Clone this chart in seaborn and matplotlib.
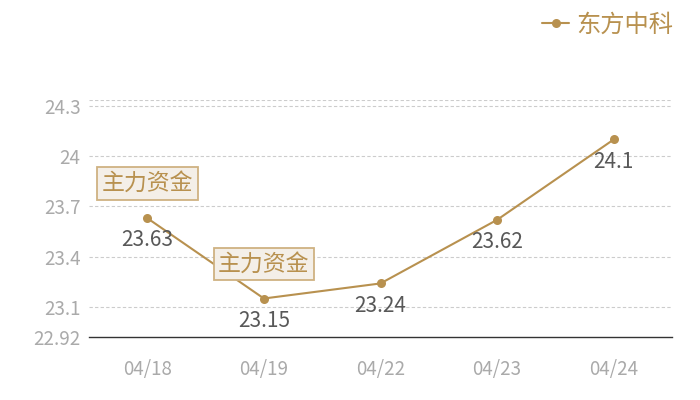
import numpy as np
import pandas as pd
import matplotlib
matplotlib.use("Agg")
import matplotlib.pyplot as plt
import seaborn as sns

dates = ["04/18", "04/19", "04/22", "04/23", "04/24"]
prices = [23.63, 23.15, 23.24, 23.62, 24.1]
ytick_vals = [22.92, 23.1, 23.4, 23.7, 24.0, 24.3]
ytick_labels = ["22.92", "23.1", "23.4", "23.7", "24", "24.3"]
flag_dates = ["04/18", "04/19"]
flag_text = "主力资金"
series_name = "东方中科"

gold = "#b8914f"
sns.set_theme(style="white")
plt.rcParams["font.family"] = ["Noto Sans CJK SC", "DejaVu Sans"]
plt.rcParams["axes.unicode_minus"] = False

df = pd.DataFrame({"date": dates, "price": prices})

fig = plt.figure(figsize=(7, 4), dpi=100)
ax = fig.add_axes([89 / 700, 1 - 337 / 400, 583 / 700, 237 / 400])

sns.lineplot(data=df, x="date", y="price", sort=False, color=gold, linewidth=1.5,
             marker="o", markersize=6.5, markeredgewidth=0, label=series_name, ax=ax)

ax.set_xlim(-0.5, len(dates) - 0.5)
ax.set_ylim(22.92, 24.336)
ax.set_yticks(ytick_vals)
ax.set_yticklabels(ytick_labels)
ax.set_xlabel("")
ax.set_ylabel("")
ax.tick_params(axis="both", length=0, labelsize=13.5, colors="#aaaaaa")
ax.tick_params(axis="y", pad=6)
ax.tick_params(axis="x", pad=16)

for y in ytick_vals[1:]:
    ax.axhline(y, color="#cccccc", linewidth=0.8, linestyle=(0, (3, 2)), zorder=0)
ax.axhline(24.336, color="#cccccc", linewidth=0.8, linestyle=(0, (3, 2)), zorder=0)

for side in ["top", "right", "left"]:
    ax.spines[side].set_visible(False)
ax.spines["bottom"].set_color("#333333")
ax.spines["bottom"].set_linewidth(1.0)

# 数值标签
for i, v in enumerate(prices):
    ax.annotate(f"{v:g}", (i, v), xytext=(0, -16), textcoords="offset points",
                ha="center", va="center", fontsize=15, color="#585858")

# 主力资金标记
for d in flag_dates:
    i = dates.index(d)
    ax.annotate(flag_text, (i, prices[i]), xytext=(0, 25), textcoords="offset points",
                ha="center", va="center", fontsize=16.5, color=gold,
                bbox=dict(boxstyle="square,pad=0.2", facecolor="#f4efe8",
                          edgecolor="#cfb282", linewidth=1.3))

ax.get_legend().remove()
handles, labels = ax.get_legend_handles_labels()
fig.legend(handles, labels, loc="upper right", bbox_to_anchor=(0.993, 1.025),
           frameon=False, fontsize=17.5, labelcolor=gold, handlelength=1.1,
           handletextpad=0.3)

fig.savefig("out.png", dpi=100)
